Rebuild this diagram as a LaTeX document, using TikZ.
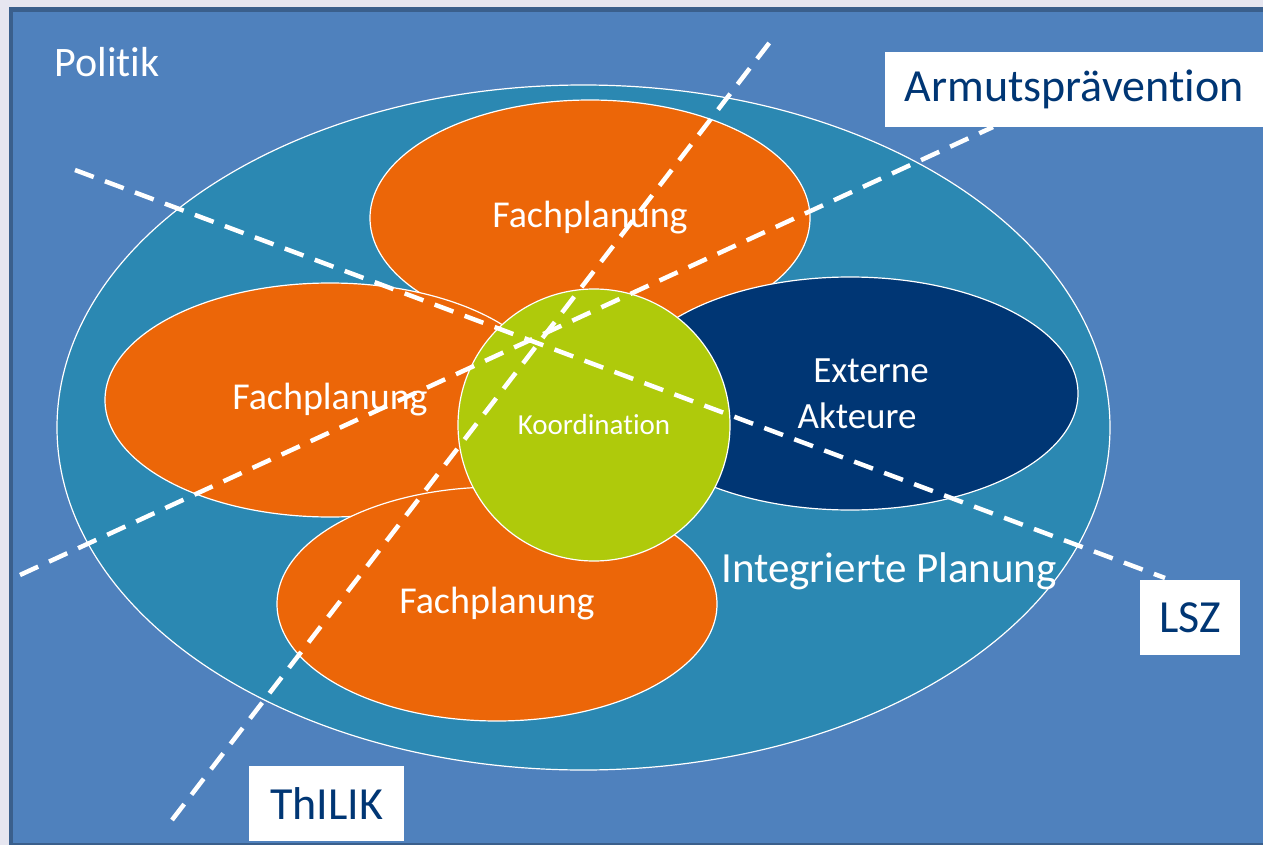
\documentclass[tikz,border=0pt]{standalone}
\usepackage{fontspec}
\setmainfont{Carlito}[Ligatures=NoCommon]
\usepackage{xcolor}
\usepackage{tikz}
\usetikzlibrary{shapes.geometric, positioning}
\definecolor{pagegrey}{HTML}{E6E6F0}
\definecolor{framedark}{HTML}{3A5F8C}
\definecolor{politikblue}{HTML}{4F81BD}
\definecolor{planblue}{HTML}{2B88B2}
\definecolor{planorange}{HTML}{EC6608}
\definecolor{akteurnavy}{HTML}{003674}
\definecolor{koordgreen}{HTML}{AFCA0B}
\tikzstyle{petal} = [ellipse, inner sep=0pt, draw=white, line width=1.2pt, text=white, align=center, font=\fontsize{38}{44}\selectfont]
\tikzstyle{tag} = [rectangle, inner sep=0pt, fill=white, text=akteurnavy, text centered, font=\fontsize{46}{52}\selectfont]
\tikzstyle{cut} = [draw=white, line width=4.5pt, dash pattern=on 20pt off 12pt]

\begin{document}
\begin{tikzpicture}[x=1pt, y=-1pt]
		\useasboundingbox (0,0) rectangle (1263,845);
		\fill[pagegrey] (0,0) rectangle (1263,845);
		\fill[politikblue] (9,7) rectangle (1263,845);
		% dark frame edges
		\fill[framedark] (9,7) rectangle (1263,12);
		\fill[framedark] (9,7) rectangle (13,845);
		\fill[framedark] (9,843) rectangle (1263,845);
		\node (Politik)[text=white, font=\fontsize{42}{48}\selectfont] at (107,62) {Politik};
		% integrated planning and its parts
		\node (Integriert)[ellipse, fill=planblue, draw=white, line width=1.2pt, minimum width=1053pt, minimum height=685pt] at (583.5,427.5) {};
		\node (Fach oben)[petal, fill=planorange, minimum width=440pt, minimum height=236pt] at (590,218) {Fachplanung};
		\node (Fach links)[petal, fill=planorange, minimum width=450pt, minimum height=234pt] at (330,400) {Fachplanung};
		\node (Fach unten)[petal, fill=planorange, minimum width=440pt, minimum height=234pt] at (497,604) {Fachplanung};
		\node (Externe)[petal, fill=akteurnavy, minimum width=456pt, minimum height=233pt, font=\fontsize{37}{46}\selectfont] at (850,393.5) {\hspace*{42pt}Externe\\\hspace*{14pt}Akteure};
		\node (Koordination)[circle, fill=koordgreen, draw=white, line width=1.2pt, minimum size=272pt, text=white, font=\fontsize{29}{34}\selectfont] at (594,425) {Koordination};
		\node (Integriert text)[text=white, font=\fontsize{43}{48}\selectfont] at (889,571) {Integrierte Planung};
		% the three frames
		\node (Armut)[tag, minimum width=378pt, minimum height=75pt] at (1074,89.5) {Armutsprävention};
		\node (LSZ)[tag, minimum width=100pt, minimum height=75pt] at (1190,617.5) {LSZ};
		\node (ThILIK)[tag, minimum width=155pt, minimum height=75pt] at (326.5,803.5) {ThILIK};
		\coordinate (Armut start) at (20,575);
		\coordinate (Armut end) at (993,127);
		\coordinate (LSZ start) at (75,170);
		\coordinate (LSZ end) at (1165,578);
		\coordinate (ThILIK start) at (172,820);
		\coordinate (ThILIK end) at (770,42);
		\draw [cut] (Armut start) -- (Armut end);
		\draw [cut] (LSZ start) -- (LSZ end);
		\draw [cut] (ThILIK start) -- (ThILIK end);
	\end{tikzpicture}
\end{document}
